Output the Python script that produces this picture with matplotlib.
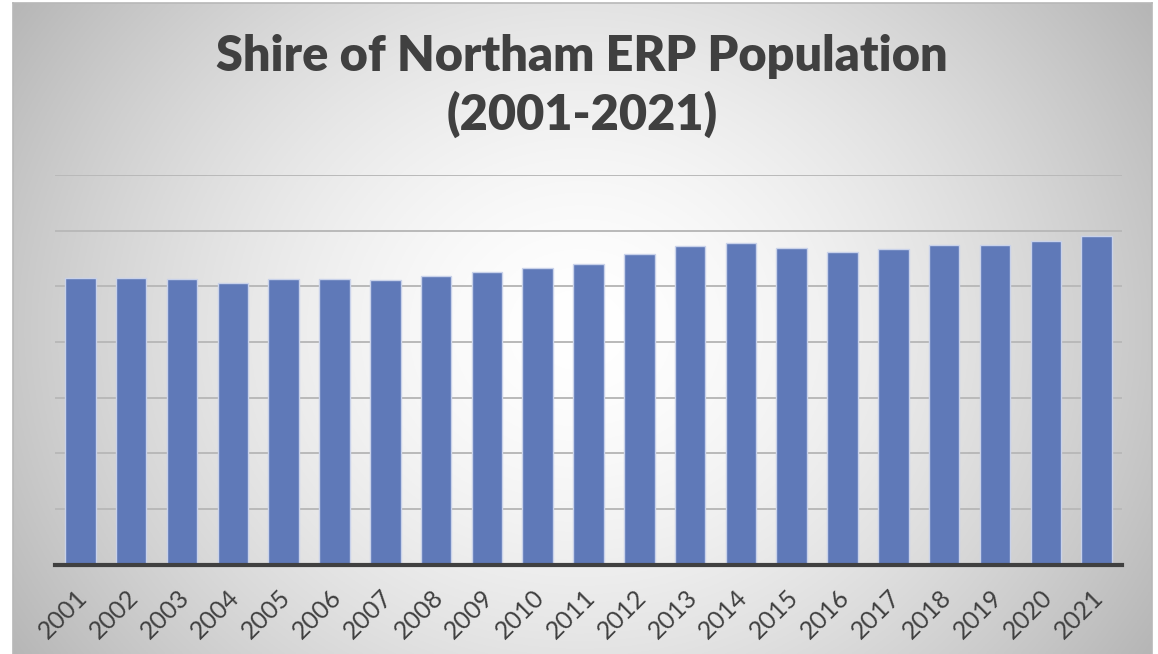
import numpy as np
import matplotlib
matplotlib.use("Agg")
import matplotlib.pyplot as plt

years = [str(y) for y in range(2001, 2022)]
population = [10280, 10290, 10250, 10130, 10250, 10250, 10230, 10380, 10530, 10650,
              10800, 11150, 11450, 11560, 11390, 11220, 11350, 11470, 11500, 11610, 11790]
title = "Shire of Northam ERP Population\n(2001-2021)"

W, H = 1158, 654
fig = plt.figure(figsize=(W / 100, H / 100), dpi=100)
fig.patch.set_facecolor("white")

# background panel with radial gradient
px0, px1, py0, py1 = 13, 1152, 3, 654
bg = fig.add_axes([px0 / W, 1 - py1 / H, (px1 - px0) / W, (py1 - py0) / H])
xs = np.linspace(px0, px1, 600)
ys = np.linspace(py0, py1, 400)
X, Y = np.meshgrid(xs, ys)
d = np.sqrt(((X - 580) / 640) ** 2 + ((Y - 330) / 560) ** 2)
v = 1 - 0.26 * np.clip(d, 0, 1.2) ** 1.6
img = np.dstack([v, v, v])
bg.imshow(img, aspect="auto", extent=[0, 1, 0, 1], origin="upper")
bg.set_xlim(0, 1); bg.set_ylim(0, 1)
for s in bg.spines.values():
    s.set_color("#b8b8b8"); s.set_linewidth(1.2)
bg.spines["bottom"].set_visible(False)
bg.set_xticks([]); bg.set_yticks([])

# chart axes
l, r, t, b = 55, 1122, 175, 564.5
ax = fig.add_axes([l / W, 1 - b / H, (r - l) / W, (b - t) / H])
ax.set_facecolor("none")
x = np.arange(len(years))
ax.bar(x, population, width=0.6, color="#5f79b8", edgecolor="#c9d2ea", linewidth=1.0, zorder=3)
ax.set_xlim(-0.5, len(years) - 0.5)
ax.set_ylim(0, 14000)
ax.set_yticks(np.arange(2000, 14001, 2000))
ax.yaxis.grid(True, color="#b9b9b9", linewidth=1.4, zorder=0)
ax.tick_params(axis="y", left=False, labelleft=False)
ax.tick_params(axis="x", length=0, pad=15)
for s in ["top", "right", "left"]:
    ax.spines[s].set_visible(False)
ax.spines["bottom"].set_color("#404040")
ax.spines["bottom"].set_linewidth(3.0)
ax.spines["bottom"].set_zorder(4)
ax.set_xticks(x)
ax.set_xticklabels(years, rotation=45, ha="right", va="top", rotation_mode="anchor",
                   fontsize=18, color="#404040", family="Lato", fontweight="normal")
for lab in ax.get_xticklabels():
    lab.set_transform(lab.get_transform() + matplotlib.transforms.ScaledTranslation(-0.05, 0, fig.dpi_scale_trans))

fig.text(582 / W, 1 - 86 / H, title, ha="center", va="center", fontsize=35,
         fontweight="heavy", color="#404040", family="Lato", linespacing=1.3)

fig.savefig("out.png", dpi=100)
